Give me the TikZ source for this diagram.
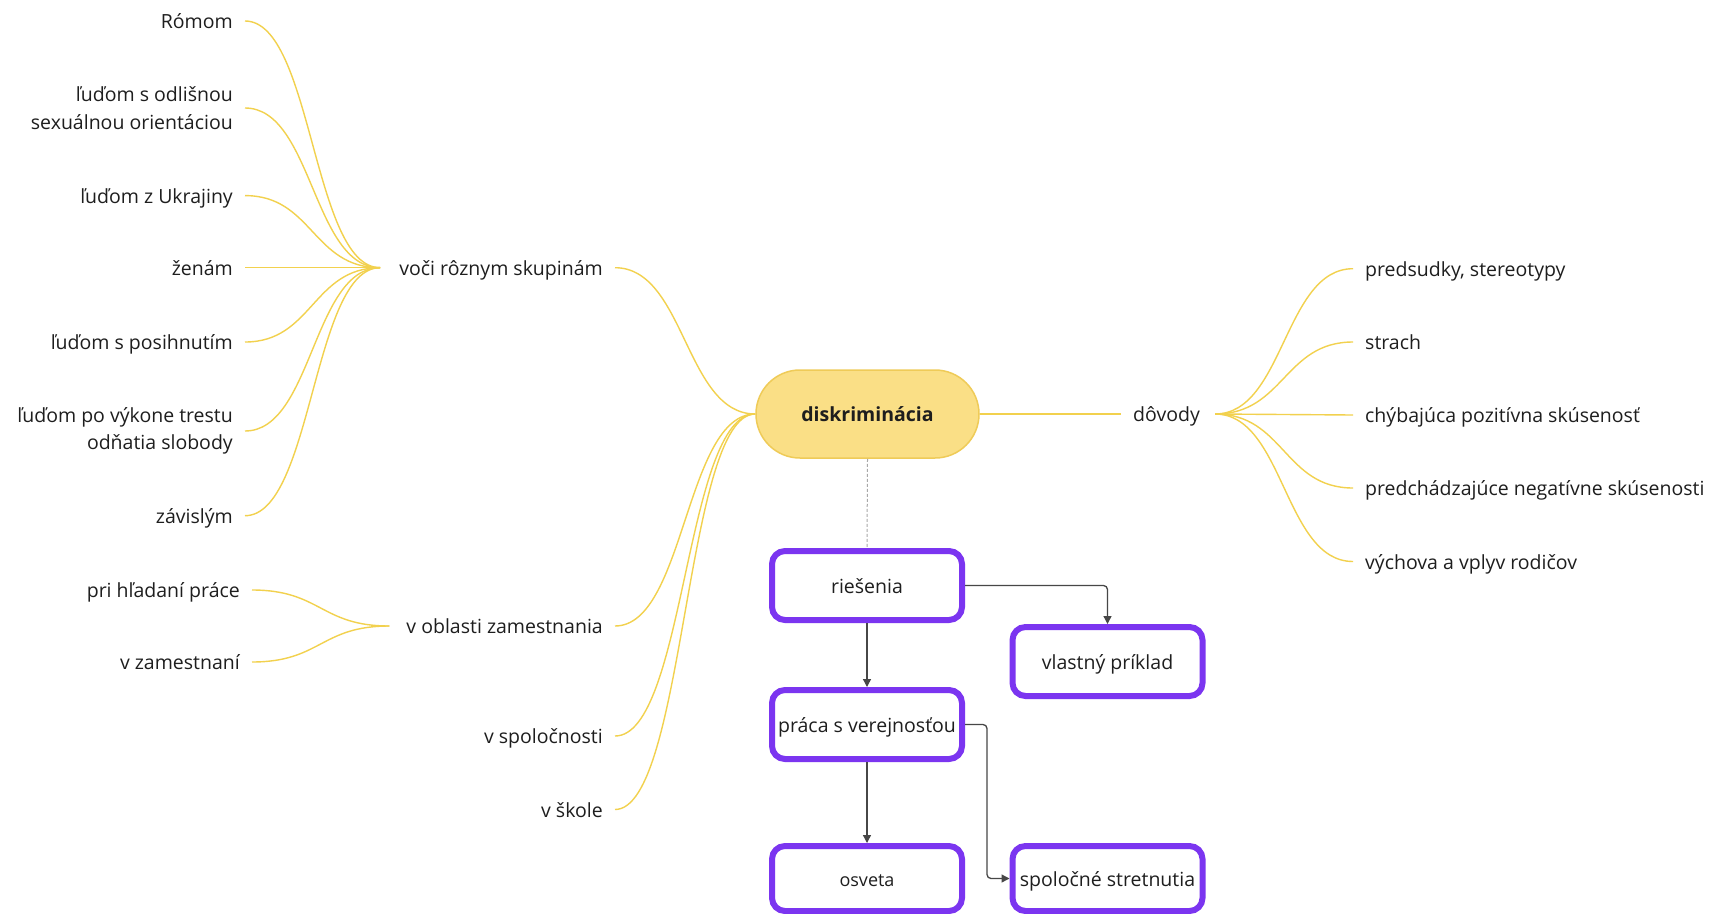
\documentclass[tikz,border=0pt]{standalone}
\usepackage{fontspec}
\setmainfont{Open Sans}
\usetikzlibrary{calc,arrows.meta}
\definecolor{yel}{HTML}{F2D14E}
\definecolor{pillfill}{HTML}{FADF86}
\definecolor{pilldraw}{HTML}{EFCB58}
\definecolor{purp}{HTML}{7B35F0}
\definecolor{txt}{HTML}{1E1E1E}
\definecolor{arr}{HTML}{474747}
\definecolor{dashc}{HTML}{A8A8A8}
\begin{document}
\begin{tikzpicture}[x=1pt,y=-1pt,
  every node/.style={font=\fontsize{19.5}{27.3}\selectfont, text=txt},
  lbl/.style={inner xsep=12pt, inner ysep=0pt, text height=16.5pt, text depth=1.5pt},
  lbltwo/.style={inner xsep=12pt, inner ysep=0pt, align=right},
  branch/.style={draw=yel, line width=1.4pt,
    to path={let \p1=(\tikztostart), \p2=(\tikztotarget) in
      .. controls ({(\x1+\x2)/2},\y1) and ({(\x1+\x2)/2},\y2) .. (\tikztotarget)}},
  pillnode/.style={draw=pilldraw, fill=pillfill, line width=1.5pt, rounded corners=44pt,
    minimum width=223pt, minimum height=88pt, inner sep=0pt, text height=16.5pt, text depth=1.5pt},
  boxnode/.style={draw=purp, line width=6pt, rounded corners=13pt, fill=white,
    minimum width=190pt, minimum height=69pt, inner sep=0pt, text height=16.5pt, text depth=1.5pt},
  conn/.style={draw=arr, line width=1.3pt, -{Triangle[length=8pt,width=8pt]}},
]
\path[use as bounding box, fill=white] (0,0) rectangle (1713,913);

% left leaves
\node[lbl, anchor=east] (romom) at (245,21) {Rómom};
\node[lbltwo, anchor=east] (odlis) at (245,108) {ľuďom s odlišnou\\sexuálnou orientáciou};
\node[lbl, anchor=east] (ukr) at (245,195.6) {ľuďom z Ukrajiny};
\node[lbl, anchor=east] (zen) at (245,267.7) {ženám};
\node[lbl, anchor=east] (posih) at (245,342) {ľuďom s posihnutím};
\node[lbltwo, anchor=east] (trest) at (245,431) {ľuďom po výkone trestu\\odňatia slobody};
\node[lbl, anchor=east] (zavis) at (245,515.7) {závislým};

% middle left
\node[lbl, anchor=east] (voci) at (615,267.7) {voči rôznym skupinám};
\coordinate (hubA) at ([xshift=-7pt]voci.west);
\node[lbl, anchor=east] (obl) at (615,626) {v oblasti zamestnania};
\coordinate (hubB) at ([xshift=-5pt]obl.west);
\node[lbl, anchor=east] (hlad) at (252,590) {pri hľadaní práce};
\node[lbl, anchor=east] (zam) at (252,662) {v zamestnaní};
\node[lbl, anchor=east] (spol) at (615,736) {v spoločnosti};
\node[lbl, anchor=east] (skola) at (615,809.5) {v škole};

% center
\node[pillnode] (pill) at (867.5,414) {\bfseries diskriminácia};

% right
\node[lbl, anchor=west] (dov) at (1121,414) {dôvody};
\coordinate (hubC) at ([xshift=3pt]dov.east);
\node[lbl, anchor=west] (pred) at (1353,268.7) {predsudky, stereotypy};
\node[lbl, anchor=west] (strach) at (1353,342) {strach};
\node[lbl, anchor=west] (chyb) at (1353,415) {chýbajúca pozitívna skúsenosť};
\node[lbl, anchor=west] (negat) at (1353,488) {predchádzajúce negatívne skúsenosti};
\node[lbl, anchor=west] (vych) at (1353,561.5) {výchova a vplyv rodičov};

% solution boxes
\node[boxnode] (ries) at (867,585.5) {riešenia};
\node[boxnode] (prac) at (867,724.5) {práca s verejnosťou};
\node[boxnode, minimum height=65pt, font=\fontsize{18}{22}\selectfont] (osv) at (867,878.5) {osveta};
\node[boxnode] (vlas) at (1107.5,661.5) {vlastný príklad};
\node[boxnode, minimum height=65pt] (stret) at (1107.5,878.5) {spoločné stretnutia};

% yellow branches
\foreach \nm in {romom,odlis,ukr,zen,posih,trest,zavis}
  \path[branch] (hubA) to (\nm.east);
\path[branch] (hubB) to (hlad.east);
\path[branch] (hubB) to (zam.east);
\foreach \nm in {voci,obl,spol,skola}
  \path[branch] (pill.west) to (\nm.east);
\draw[yel, line width=1.4pt] (pill.east) -- (dov.west);
\foreach \nm in {pred,strach,chyb,negat,vych}
  \path[branch] (hubC) to (\nm.west);

% dashed link
\draw[dashc, line width=1pt, dash pattern=on 3pt off 2pt] (pill.south) -- (ries.north);

% arrows
\draw[conn, rounded corners=4pt] (ries.east) -| (vlas.north);
\draw[conn] (ries.south) -- (prac.north);
\draw[conn, rounded corners=4pt] (prac.east) -- ++(22,0) |- (stret.west);
\draw[conn] (prac.south) -- (osv.north);
\end{tikzpicture}
\end{document}
